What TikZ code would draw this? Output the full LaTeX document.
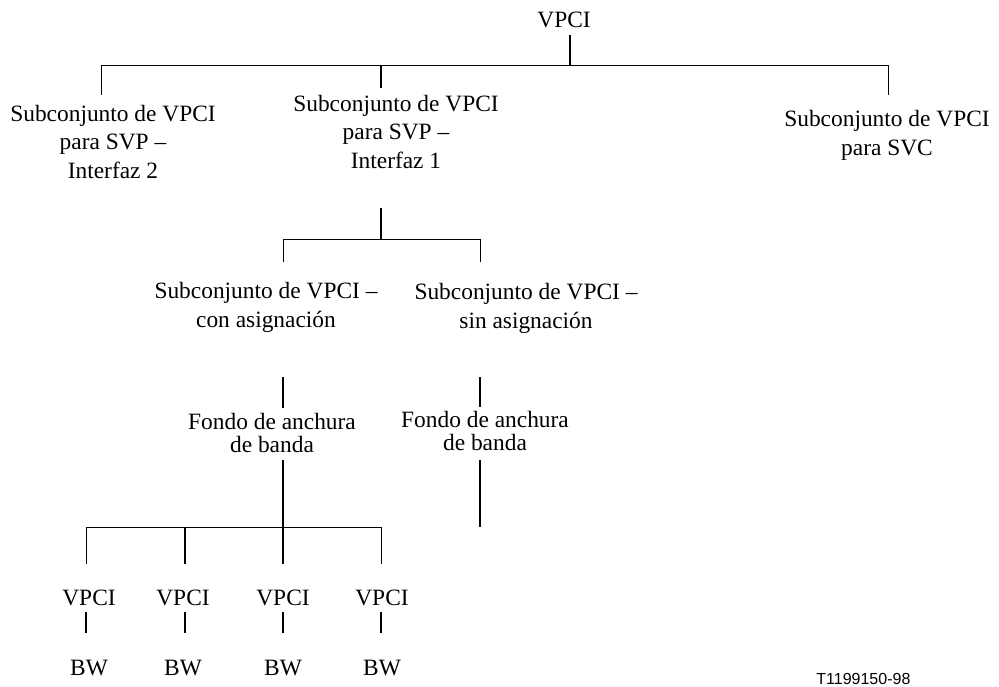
\documentclass[tikz,border=0pt]{standalone}
\usepackage{fontspec}
\setmainfont{Liberation Serif}
\newfontfamily\tagfont{Liberation Sans}
\usetikzlibrary{positioning}
\tikzset{
  lbl/.style={anchor=base, inner sep=0pt, align=center,
    font=\fontsize{11.7}{14.25}\selectfont},
  lbltight/.style={lbl, font=\fontsize{11.7}{11.2}\selectfont},
  link/.style={line width=0.85pt},
  bus/.style={line width=0.5pt},
}
\begin{document}
\begin{tikzpicture}[x=0.5pt,y=-0.5pt]
  \useasboundingbox (0,0) rectangle (999,686);
  % labels (base = last line)
  \node[lbl] (root) at (564,27) {VPCI};
  \node[lbl] (svp2) at (113,178) {Subconjunto de VPCI\\para SVP –\\Interfaz 2};
  \node[lbl] (svp1) at (396,168) {Subconjunto de VPCI\\para SVP –\\Interfaz 1};
  \node[lbl] (svc)  at (887,155) {Subconjunto de VPCI\\para SVC};
  \node[lbl] (con)  at (266,327) {Subconjunto de VPCI –\\con asignación};
  \node[lbl] (sin)  at (526,328) {Subconjunto de VPCI –\\sin asignación};
  \node[lbltight] (poolcon) at (272,452) {Fondo de anchura\\de banda};
  \node[lbltight] (poolsin) at (485,450) {Fondo de anchura\\de banda};
  \node[anchor=base west, inner sep=0pt, font=\tagfont\fontsize{8}{9}\selectfont]
    (tag) at (816,684) {T1199150-98};

  % top level
  \path (570,35) coordinate (r0) (570,65) coordinate (r1)
        (101,95) coordinate (a0) (381,88) coordinate (b0) (888,95) coordinate (c0);
  \draw[link] (r0) -- (r1);
  \draw[bus] (a0) |- (c0 |- r1) -- (c0);
  \draw[link] (b0) -- (b0 |- r1);

  % interfaz 1
  \path (381,208) coordinate (b1) (381,239) coordinate (b2)
        (283,262) coordinate (d0) (480,262) coordinate (e0);
  \draw[link] (b1) -- (b2);
  \draw[bus] (d0) |- (e0 |- b2) -- (e0);
  \path (283,377) coordinate (d1) (283,408) coordinate (d2)
        (480,377) coordinate (e1) (480,407) coordinate (e2);
  \draw[link] (d1) -- (d2);
  \draw[link] (e1) -- (e2);

  % fondo
  \path (283,460) coordinate (d3) (283,527) coordinate (d4)
        (480,460) coordinate (e3) (480,527) coordinate (e4);
  \draw[link] (d3) -- (d4);
  \draw[link] (e3) -- (e4);
  \path (86,527) coordinate (bw0) (381,527) coordinate (bw1);
  \draw[bus] (86,564) |- (bw1) -- (381,564);

  \foreach \x/\lx [count=\i] in {86/89,185/183,283/283,381/382}
  {
    \coordinate (v\i) at (\x,564);
    \ifnum\i>1 \ifnum\i<4 \draw[link] (v\i) -- (v\i |- bw0); \fi\fi
    \node[lbl] (vpci\i) at (\lx,605) {VPCI};
    \draw[link] (\x,612) coordinate (w\i) -- (\x,633);
    \node[lbl] (bw\i) at (\lx,675) {BW};
  }
\end{tikzpicture}
\end{document}
